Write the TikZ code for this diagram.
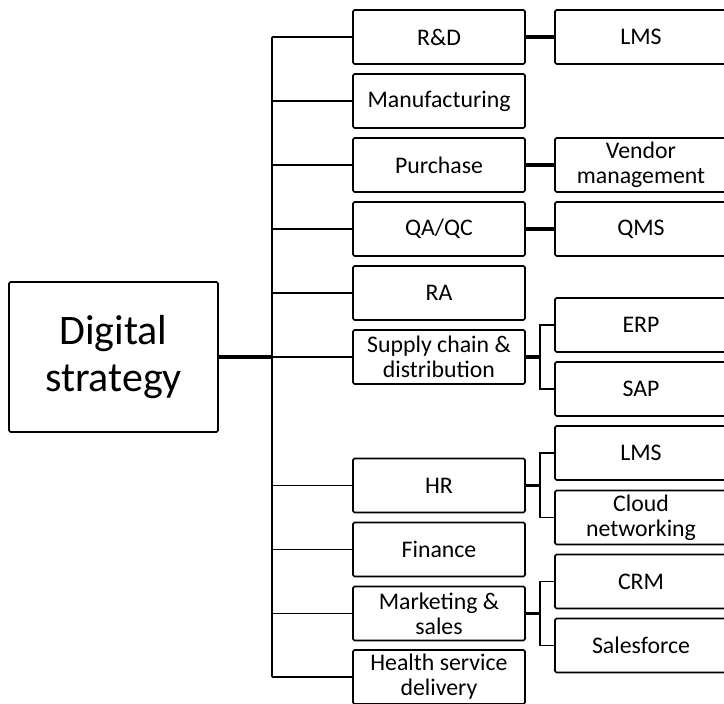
\documentclass[tikz,border=0pt]{standalone}
\usepackage{fontspec}
\setmainfont{Carlito}
\begin{document}
\begin{tikzpicture}[x=1pt,y=-1pt,
  box/.style={draw, line width=1.7pt, rounded corners=1.5pt, minimum width=172pt,
    minimum height=54pt, align=center, inner sep=0pt,
    font=\fontsize{23.8}{25}\selectfont},
  rootbox/.style={draw, line width=1.7pt, rounded corners=1.5pt, minimum width=209pt,
    minimum height=150pt, align=center, inner sep=0pt,
    font=\fontsize{42}{47}\selectfont},
  trunk/.style={line width=2.2pt},
  branch/.style={line width=1.5pt},
  link/.style={line width=3.5pt},
  rootlink/.style={line width=4pt},
  bracket/.style={line width=1.7pt}]
\useasboundingbox (0,0) rectangle (724,704);

% root
\node[rootbox] (ds) at (113.5,357) {Digital\\strategy};

% departments
\node[box] (rd)  at (439,37)  {R\&D};
\node[box] (mf)  at (439,101) {Manufacturing};
\node[box] (pu)  at (439,165) {Purchase};
\node[box] (qa)  at (439,229) {QA/QC};
\node[box] (ra)  at (439,293) {RA};
\node[box] (sc)  at (439,357) {Supply chain \&\\distribution};
\node[box] (hr)  at (439,485.5) {HR};
\node[box] (fi)  at (439,549.5) {Finance};
\node[box] (ms)  at (439,613.5) {Marketing \&\\sales};
\node[box] (hs)  at (439,677) {Health service\\delivery};

% systems
\node[box] (lms) at (641,37)  {LMS};
\node[box] (vm)  at (641,165) {Vendor\\management};
\node[box] (qms) at (641,229) {QMS};
\node[box] (erp) at (641,325) {ERP};
\node[box] (sap) at (641,389) {SAP};
\node[box] (lms2) at (641,453) {LMS};
\node[box] (cn)  at (641,517.5) {Cloud\\networking};
\node[box] (crm) at (641,581.5) {CRM};
\node[box] (sf)  at (641,645.5) {Salesforce};

% trunk and bracket positions
\coordinate (tx) at (272,0);
\coordinate (bx) at (540,0);

% trunk
\draw[trunk] (rd.west -| tx) -- (hs.west -| tx);
\draw[rootlink] (ds.east |- sc.west) -- (sc.west -| tx);

% branches to departments
\foreach \n in {rd,mf,pu,qa,ra,sc,hr,fi,ms,hs}
  \draw[branch] (\n.west -| tx) -- (\n.west);

% direct links
\draw[link] (rd.east) -- (lms.west);
\draw[link] (pu.east) -- (vm.west);
\draw[link] (qa.east) -- (qms.west);

% forked links
\draw[link] (sc.east) -- (sc.east -| bx);
\draw[bracket] (erp.west) -- (erp.west -| bx) -- (sap.west -| bx) -- (sap.west);
\draw[link] (hr.east) -- (hr.east -| bx);
\draw[bracket] (lms2.west) -- (lms2.west -| bx) -- (cn.west -| bx) -- (cn.west);
\draw[link] (ms.east) -- (ms.east -| bx);
\draw[bracket] (crm.west) -- (crm.west -| bx) -- (sf.west -| bx) -- (sf.west);
\end{tikzpicture}
\end{document}
